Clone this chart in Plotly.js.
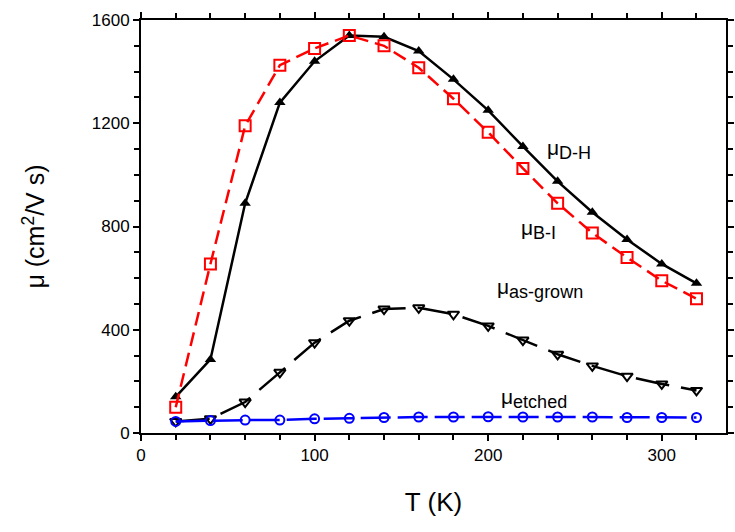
<!DOCTYPE html>
<html>
<head>
<meta charset="utf-8">
<script src="https://cdn.plot.ly/plotly-3.0.1.min.js"></script>
<style>
  html, body { margin: 0; padding: 0; background: #fff; }
  #chart { width: 735px; height: 532px; }
</style>
</head>
<body>
<div id="chart"></div>
<script>
// temperature (K)
const temps = [20, 40, 60, 80, 100, 120, 140, 160, 180, 200, 220, 240, 260, 280, 300, 320];

// mobility values (cm2/V s)
const muDH = [140, 285, 890, 1280, 1440, 1540, 1535, 1480, 1370, 1250, 1110, 975, 855, 750, 655, 580];
const muBI = [100, 655, 1190, 1425, 1490, 1540, 1500, 1415, 1295, 1165, 1025, 890, 775, 680, 590, 520];
const muAsGrown = [45, 55, 120, 235, 350, 435, 480, 485, 460, 415, 360, 305, 260, 220, 190, 165];
const muEtched = [45, 48, 50, 50, 55, 57, 60, 62, 62, 63, 62, 62, 62, 60, 60, 60];

const xTicks = [0, 100, 200, 300];
const yTicks = [0, 400, 800, 1200, 1600];

const fontFam = "Liberation Sans, Arial, sans-serif";

const dh = {
    x: temps, y: muDH, mode: "lines+markers", name: "D-H",
    line: { color: "black", width: 2.5 },
    marker: { symbol: "triangle-up", size: 10, color: "black" }
};
const bi = {
    x: temps, y: muBI, mode: "lines+markers", name: "B-I",
    line: { color: "red", width: 2.5, dash: "14px,7px" },
    marker: { symbol: "square-open", size: 11, color: "red", line: { width: 2 } }
};
const asGrown = {
    x: temps, y: muAsGrown, mode: "lines+markers", name: "as-grown",
    line: { color: "black", width: 2.5, dash: "34px,12px" },
    marker: { symbol: "triangle-down-open", size: 10, color: "black", line: { width: 2 } }
};
const etched = {
    x: temps, y: muEtched, mode: "lines+markers", name: "etched",
    line: { color: "blue", width: 2.5, dash: "30px,7px" },
    marker: { symbol: "circle-open", size: 9, color: "blue", line: { width: 2 } }
};

const axisCommon = {
    showgrid: false, zeroline: false,
    showline: true, linecolor: "black", linewidth: 2,
    mirror: "allticks", ticks: "outside", ticklen: 6, tickwidth: 2, tickcolor: "black",
    tickfont: { family: fontFam, size: 17, color: "black" }
};

// subscript label: keep the subscript nearly as big as the mu
const sub = t => "μ<sub><span style='font-size:18px'>" + t + "</span></sub>";

var layout = {
    width: 735, height: 532,
    margin: { l: 141, r: 9, t: 20, b: 99 },
    paper_bgcolor: "white", plot_bgcolor: "white",
    showlegend: false,
    xaxis: Object.assign({}, axisCommon, {
        range: [0, 337], tickvals: xTicks,
        minor: { dtick: 20, tick0: 0, ticks: "outside", ticklen: 5, tickwidth: 2, tickcolor: "black" },
        title: { text: "T (K)", font: { family: fontFam, size: 26, color: "black" }, standoff: 28 }
    }),
    yaxis: Object.assign({}, axisCommon, {
        range: [0, 1600], tickvals: yTicks,
        minor: { dtick: 100, tick0: 0, ticks: "outside", ticklen: 5, tickwidth: 2, tickcolor: "black" },
        title: { text: "μ (cm<sup>2</sup>/V s)", font: { family: fontFam, size: 25, color: "black" }, standoff: 40 }
    }),
    annotations: [
        { x: 233, y: 1100, text: sub("D-H") },
        { x: 218, y: 790, text: sub("B-I") },
        { x: 204, y: 560, text: sub("as-grown") },
        { x: 206, y: 135, text: sub("etched") }
    ].map(a => Object.assign(a, {
        xref: "x", yref: "y", showarrow: false, xanchor: "left",
        font: { family: fontFam, size: 21, color: "black" }
    }))
};

Plotly.newPlot("chart", [dh, bi, asGrown, etched], layout, { displayModeBar: false, staticPlot: true });
</script>
</body>
</html>
